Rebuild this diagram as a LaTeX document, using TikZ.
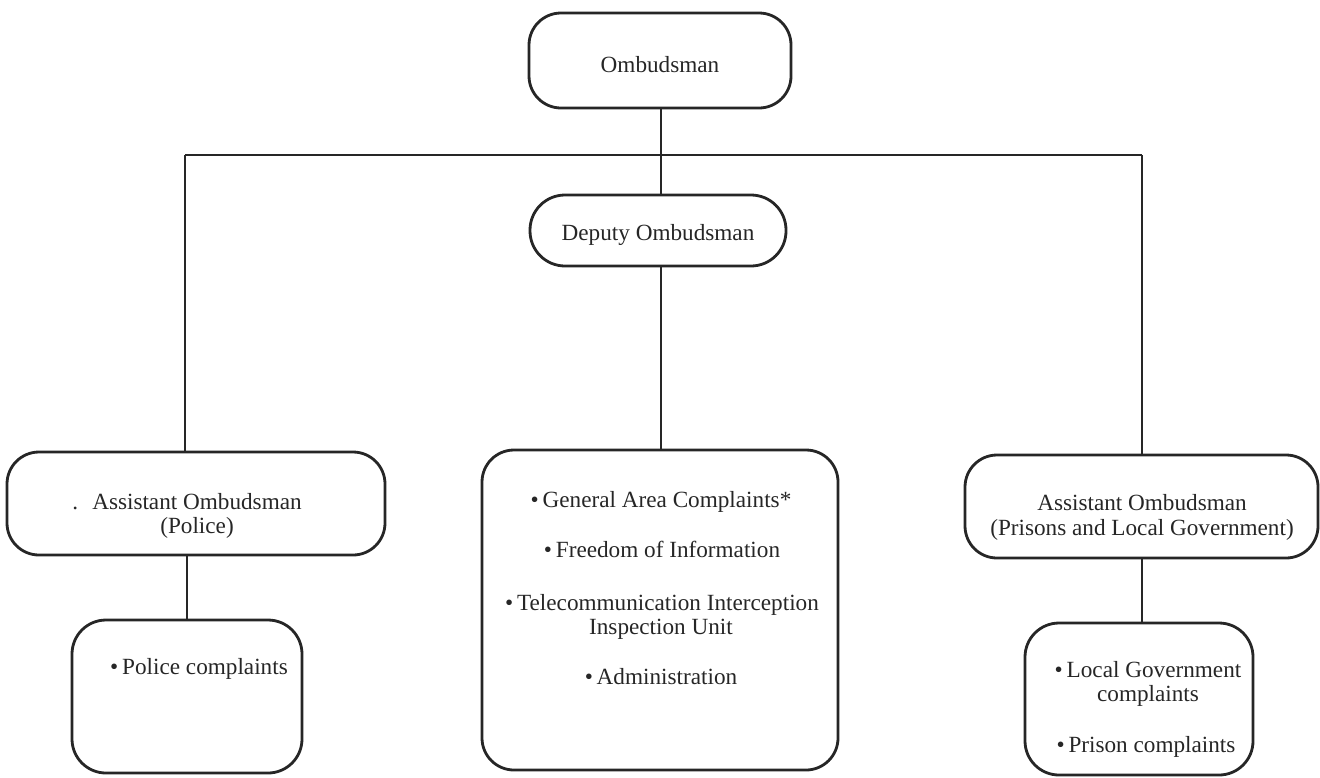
\documentclass[tikz,border=0pt]{standalone}
\usepackage{fontspec}
\setmainfont{Liberation Serif}
\definecolor{ink}{HTML}{262626}
\begin{document}
\begin{tikzpicture}[x=0.5pt,y=-0.5pt,
  box/.style={draw=ink,line width=1.4pt,rounded corners=16pt,inner sep=0pt,outer sep=0pt},
  link/.style={draw=ink,line width=1.2pt},
  txt/.style={anchor=base,inner sep=0pt,text=ink,font=\fontsize{11.6}{14}\selectfont}]
\useasboundingbox (0,0) rectangle (1320,777);
% boxes
\node[box,minimum width=131pt,minimum height=47.5pt] (omb) at (660,60.5) {};
\node[box,rounded corners=17.5pt,minimum width=128pt,minimum height=35.5pt] (dep) at (658,230.5) {};
\node[box,minimum width=178pt,minimum height=160pt] (mid) at (660,610) {};
\node[box,minimum width=189pt,minimum height=51.5pt] (ap) at (196,503.5) {};
\node[box,minimum width=176.5pt,minimum height=51.5pt] (ar) at (1141.5,506.5) {};
\node[box,rounded corners=17pt,minimum width=115pt,minimum height=76.5pt] (pc) at (187,696.5) {};
\node[box,rounded corners=17pt,minimum width=114pt,minimum height=76pt] (lr) at (1139,699) {};
% connectors
\coordinate (bl) at (185,155);
\coordinate (br) at (1142,155);
\coordinate (sp) at (661,155);
\draw[link] (bl) -- (br);
\draw[link] (bl) -- (bl |- ap.north);
\draw[link] (br) -- (br |- ar.north);
\draw[link] (sp |- omb.south) -- (sp |- dep.north);
\draw[link] (sp |- dep.south) -- (sp |- mid.north);
\draw[link] (pc.north |- ap.south) -- (pc.north);
\draw[link] (br |- ar.south) -- (br |- lr.north);
% texts
\node[txt] (tomb) at (660,72) {Ombudsman};
\node[txt] (tdep) at (658,240) {Deputy Ombudsman};
\node[txt] (tap1) at (197,509) {\llap{.\hspace{7pt}}Assistant Ombudsman};
\node[txt] (tap2) at (197,533) {(Police)};
\node[txt] (tar1) at (1142,510) {Assistant Ombudsman};
\node[txt] (tar2) at (1142,535) {(Prisons and Local Government)};
\node[txt] (tpc) at (199,674) {\textbullet\,Police complaints};
\node[txt] (tm1) at (661,507) {\textbullet\,General Area Complaints*};
\node[txt] (tm2) at (662,557) {\textbullet\,Freedom of Information};
\node[txt] (tm3) at (662,610) {\textbullet\,Telecommunication Interception};
\node[txt] (tm4) at (661,634) {Inspection Unit};
\node[txt] (tm5) at (661,684) {\textbullet\,Administration};
\node[txt] (tl1) at (1148,677) {\textbullet\,Local Government};
\node[txt] (tl2) at (1148,701) {complaints};
\node[txt] (tl3) at (1146,752) {\textbullet\,Prison complaints};
\end{tikzpicture}
\end{document}
